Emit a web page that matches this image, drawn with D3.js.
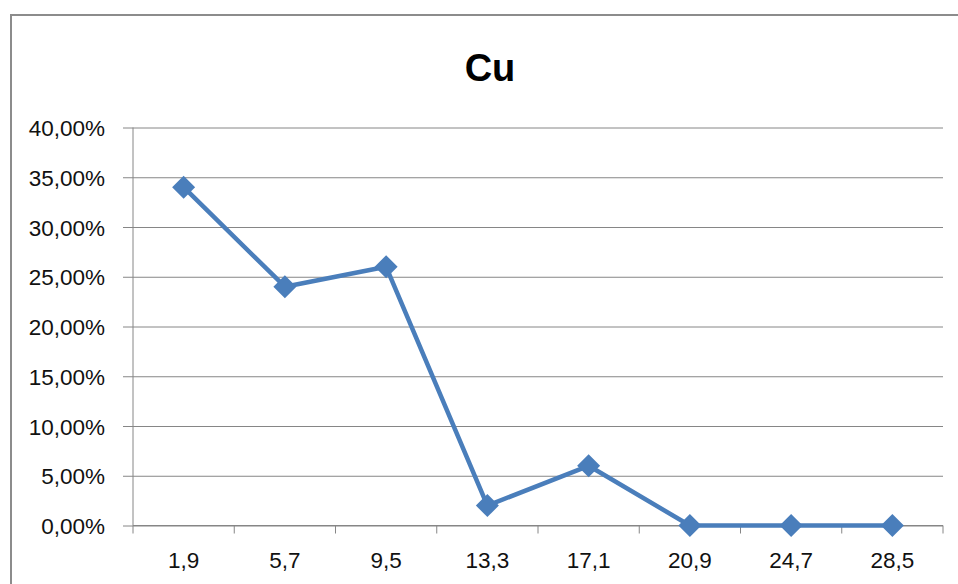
<!DOCTYPE html>
<html><head><meta charset="utf-8">
<script src="https://cdn.jsdelivr.net/npm/d3@7"></script>
<style>html,body{margin:0;padding:0;background:#fff;}svg{display:block;}</style>
</head><body>
<svg id="c" width="958" height="584"></svg>
<script>
const categories = ["1,9","5,7","9,5","13,3","17,1","20,9","24,7","28,5"];
const values = [0.34, 0.24, 0.26, 0.02, 0.06, 0.0, 0.0, 0.0];
const yTicks = [0, 0.05, 0.10, 0.15, 0.20, 0.25, 0.30, 0.35, 0.40];
const title = "Cu";

(function () {
const svg = d3.select("#c");
const pLeft = 133, pRight = 943, pTop = 127.5, pBottom = 525.5;
const font = "'Liberation Sans', Arial, sans-serif";

// outer frame
svg.append("rect").attr("x", 11).attr("y", 15).attr("width", 1000).attr("height", 620)
  .attr("fill", "none").attr("stroke", "#8c8c8c").attr("stroke-width", 2);

svg.append("text").attr("x", 490).attr("y", 81).attr("text-anchor", "middle")
  .attr("font-family", font).attr("font-weight", "bold").attr("font-size", 38)
  .attr("fill", "#000").text(title);

const x = d3.scaleBand().domain(categories).range([pLeft, pRight]);
const y = d3.scaleLinear().domain([0, 0.4]).range([pBottom, pTop]);
const fmt = v => d3.format(".2f")(v * 100).replace(".", ",") + "%";

// y axis with gridlines
const yAxis = svg.append("g").attr("transform", `translate(${pLeft},0)`)
  .call(d3.axisLeft(y).tickValues(yTicks).tickFormat(fmt).tickSize(-(pRight - pLeft)).tickPadding(0));
yAxis.select(".domain").remove();
yAxis.selectAll(".tick line").attr("x1", -10).attr("stroke", "#868686").attr("stroke-width", 1);
yAxis.selectAll(".tick text").attr("x", -28).attr("font-family", font).attr("font-size", 22.5)
  .attr("fill", "#111").attr("dy", "0.36em");

// vertical axis line
svg.append("line").attr("x1", pLeft).attr("x2", pLeft).attr("y1", pTop).attr("y2", pBottom)
  .attr("stroke", "#868686").attr("stroke-width", 1);

// x axis
const xAxis = svg.append("g").attr("transform", `translate(0,${pBottom})`)
  .call(d3.axisBottom(x).tickSize(0).tickPadding(0));
xAxis.select(".domain").attr("stroke", "#868686").attr("d", `M${pLeft},0H${pRight}`);
xAxis.selectAll(".tick text").attr("y", 42.5).attr("dy", 0).attr("font-family", font)
  .attr("font-size", 22.5).attr("fill", "#111");
// category boundary ticks
const bounds = categories.map(c => x(c)).concat([pRight]);
svg.append("g").selectAll("line").data(bounds).join("line")
  .attr("x1", d => d).attr("x2", d => d).attr("y1", pBottom).attr("y2", pBottom + 8)
  .attr("stroke", "#868686").attr("stroke-width", 1);

// series line
const pts = categories.map((c, i) => [x(c) + x.bandwidth() / 2, y(values[i])]);
svg.append("path").datum(pts).attr("d", d3.line())
  .attr("fill", "none").attr("stroke", "#4a7ebb").attr("stroke-width", 4.5)
  .attr("stroke-linejoin", "round");

svg.append("g").selectAll("path").data(pts).join("path")
  .attr("transform", d => `translate(${d[0]},${d[1]})`)
  .attr("d", "M0,-11.5L11.5,0L0,11.5L-11.5,0Z")
  .attr("fill", "#4a7ebb");
})();
</script>
</body></html>
